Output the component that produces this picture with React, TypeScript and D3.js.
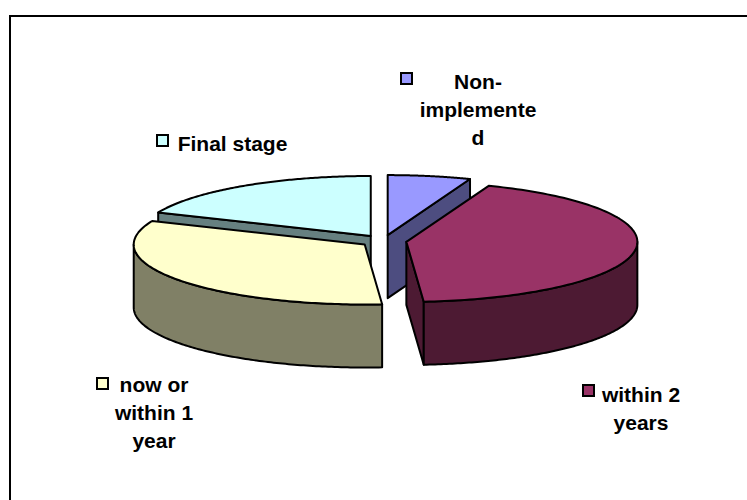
import React from 'react';
import * as d3 from 'd3';

const categories = ['Non-implemented', 'within 2 years', 'now or within 1 year', 'Final stage'];
const shares = [5.8, 43, 32.6, 18.6];
const labelLines = [['Non-', 'implemente', 'd'], ['within 2', 'years'], ['now or', 'within 1', 'year'], ['Final stage']];

const topColors = ['#9999FF', '#993366', '#FFFFCC', '#CCFFFF'];
const sideColors = ['#4D4D80', '#4D1A33', '#808066', '#668080'];

// label layout: line centre x, first baseline y, legend key top-left corner
const labelX = [478, 641, 154, 232.5];
const labelY = [89, 402, 392, 151];
const keyX = [400, 582, 96, 156];
const keyY = [72, 384, 377, 134];

const width = 747;
const height = 500;
const cx = 383.5;
const cy = 241;
const rx = 231;
const ry = 60;
const depth = 63;
const explode = 0.1;
const lineHeight = 28;
const fontFamily = '"Liberation Sans", Arial, sans-serif';

const xScale = d3.scaleLinear().domain([-1, 1]).range([cx - rx, cx + rx]);
const yScale = d3.scaleLinear().domain([-1, 1]).range([cy + ry, cy - ry]);
const line = d3.line();

type Pt = [number, number];

export default function App() {
    const slices = d3.pie<number>().sort(null)(shares);

    // draw order: back slices first
    const order = [3, 0, 2, 1];

    const renderSlice = (i: number) => {
        const s = slices[i];
        const mid = (s.startAngle + s.endAngle) / 2;
        const ox = explode * Math.sin(mid);
        const oy = explode * Math.cos(mid);
        const at = (t: number, dy = 0): Pt => [xScale(ox + Math.sin(t)), yScale(oy + Math.cos(t)) + dy];
        const apex = (dy = 0): Pt => [xScale(ox), yScale(oy) + dy];
        const sweep = (a: number, b: number, dy = 0): Pt[] =>
            d3.range(0, 121).map((k) => at(a + ((b - a) * k) / 120, dy));
        const cutFace = (t: number): Pt[] => [apex(), at(t), at(t, depth), apex(depth)];

        // a cut face only shows when it turns towards the viewer
        const faces: Pt[][] = [];
        if (Math.sin(s.endAngle) > 1e-6) faces.push(cutFace(s.endAngle));
        if (Math.sin(s.startAngle) < -1e-6) faces.push(cutFace(s.startAngle));

        // rim along the front half of the ellipse
        const rimStart = Math.max(s.startAngle, Math.PI / 2);
        const rimEnd = Math.min(s.endAngle, (Math.PI * 3) / 2);

        return (
            <g key={categories[i]} stroke="#000" strokeWidth={2} strokeLinejoin="round">
                {faces.map((f, k) => (
                    <path key={k} d={line(f) + 'Z'} fill={sideColors[i]} />
                ))}
                {rimStart < rimEnd && (
                    <path
                        d={line([...sweep(rimStart, rimEnd), ...sweep(rimEnd, rimStart, depth)]) + 'Z'}
                        fill={sideColors[i]}
                    />
                )}
                <path d={line([apex(), ...sweep(s.startAngle, s.endAngle)]) + 'Z'} fill={topColors[i]} />
            </g>
        );
    };

    return (
        <svg
            width={width}
            height={height}
            viewBox={`0 0 ${width} ${height}`}
            style={{ position: 'absolute', left: 0, top: 0, background: '#fff' }}
        >
            <path d={`M10 ${height}V16H${width}`} fill="none" stroke="#000" strokeWidth={2} />
            {order.map(renderSlice)}
            {categories.map((c, i) => (
                <g key={c}>
                    <rect
                        x={keyX[i] + 1}
                        y={keyY[i] + 1}
                        width={11}
                        height={11}
                        fill={topColors[i]}
                        stroke="#000"
                        strokeWidth={2}
                    />
                    <text
                        fontFamily={fontFamily}
                        fontSize={21}
                        fontWeight="bold"
                        textAnchor="middle"
                        fill="#000"
                    >
                        {labelLines[i].map((t, k) => (
                            <tspan key={k} x={labelX[i]} y={labelY[i] + k * lineHeight}>
                                {t}
                            </tspan>
                        ))}
                    </text>
                </g>
            ))}
        </svg>
    );
}
